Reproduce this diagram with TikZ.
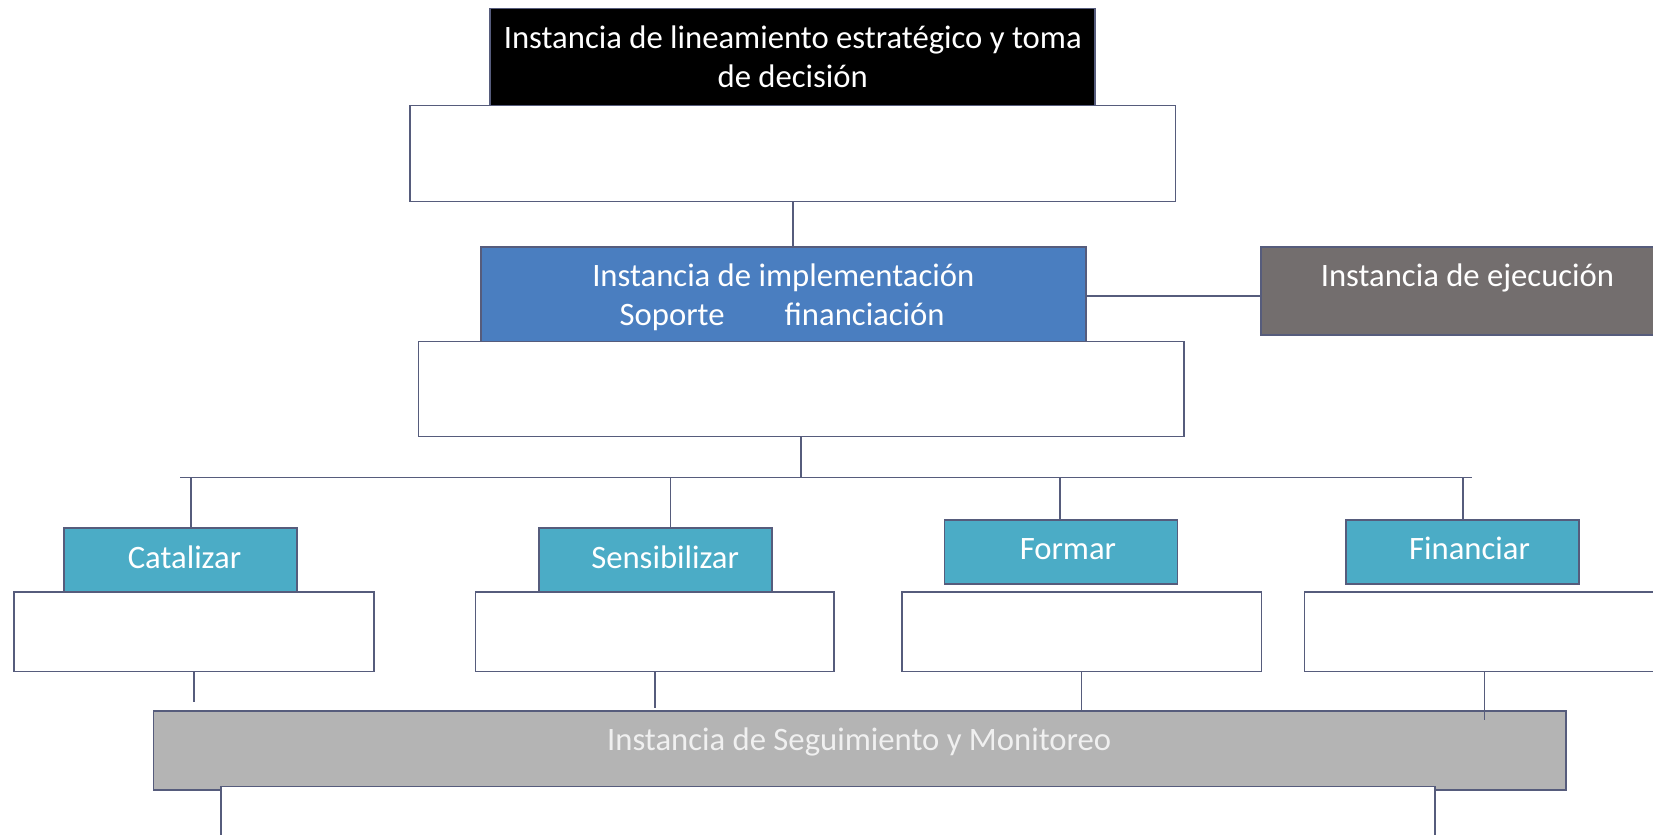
\documentclass[tikz,border=0pt]{standalone}
\usepackage{fontspec}
\setmainfont{Carlito}
\usetikzlibrary{fit}
\definecolor{edge}{HTML}{565C7C}
\definecolor{implblue}{HTML}{4A7EC0}
\definecolor{exegray}{HTML}{736E6E}
\definecolor{teal}{HTML}{4BACC6}
\definecolor{seggray}{HTML}{B4B4B4}
\definecolor{segtext}{HTML}{F0F0F0}
\begin{document}
\begin{tikzpicture}[x=0.5pt,y=-0.5pt,
  box/.style={draw=edge, line width=0.8pt, inner sep=0pt},
  txt/.style={inner sep=0pt, anchor=base, font=\fontsize{15.5pt}{18.5pt}\selectfont},
  wtxt/.style={txt, text=white},
  conn/.style={draw=edge, line width=0.8pt}]
\path[use as bounding box] (0,0) rectangle (1568,792);
\clip (0,0) rectangle (1568,792);
% top level
\node[box, fit={(465,8) (1039,100)}, fill=black] (top) {};
\node[box, fit={(389,100) (1115,191)}, fill=white] (w0) {};
\node[wtxt] (topa) at (752,46) {Instancia de lineamiento estratégico y toma};
\node[wtxt] (topb) at (752,83) {de decisión};
% implementation
\node[box, fit={(397,324) (1123,414)}, fill=white] (w00) {};
\node[box, fit={(456,234) (1030,324)}, fill=implblue] (impl) {};
\node[wtxt] (impla) at (743,272) {Instancia de implementación};
\node[wtxt] (implb) at (742,309) {Soporte\hspace{28.5pt}financiación};
% execution
\node[box, fit={(1196,234) (1590,318)}, fill=exegray] (exe) {};
\node[wtxt] (exet) at (1392,272) {Instancia de ejecución};
% action boxes
\node[box, fit={(61,501) (282,561)}, fill=teal] (cat) {};
\node[box, fit={(511,501) (732,561)}, fill=teal] (sen) {};
\node[box, fit={(896,493) (1117,554)}, fill=teal] (for) {};
\node[box, fit={(1277,493) (1498,554)}, fill=teal] (fin) {};
\node[wtxt] (catt) at (175,539) {Catalizar};
\node[wtxt] (sent) at (631,539) {Sensibilizar};
\node[wtxt] (fort) at (1013,531) {Formar};
\node[wtxt] (fint) at (1394,531) {Financiar};
\node[box, fit={(13.5,561.5) (354.5,637)}, fill=white] (w1) {};
\node[box, fit={(451,561.5) (791,637)}, fill=white] (w2) {};
\node[box, fit={(855.5,561.5) (1196.5,637)}, fill=white] (w3) {};
\node[box, fit={(1237.5,561.5) (1590,637)}, fill=white] (w4) {};
% monitoring
\node[box, fit={(145.5,674.5) (1485.5,749.5)}, fill=seggray] (seg) {};
\node[box, fit={(209.5,746) (1361.5,810)}, fill=white] (w5) {};
\node[txt, text=segtext] (segt) at (815,712) {Instancia de Seguimiento y Monitoreo};
% connectors
\coordinate (busL) at (171,453);
\coordinate (busR) at (1396,453);
\coordinate (d1) at (181,453);
\coordinate (d2) at (636,453);
\coordinate (d3) at (1005.5,453);
\coordinate (d4) at (1387.5,453);
\coordinate (u1) at (184,665.5);
\coordinate (u2) at (621.5,672);
\coordinate (u3) at (1026,675);
\coordinate (u4) at (1408,683);
\coordinate (ex) at (1100,281);
\draw[conn] (w0.south) -- (w0.south |- impl.north);
\draw[conn] (impl.east |- ex) -- (exe.west |- ex);
\draw[conn] (w00.south) -- (w00.south |- busL);
\draw[conn] (busL) -- (busR);
\draw[conn] (d1) -- (d1 |- cat.north);
\draw[conn] (d2) -- (d2 |- sen.north);
\draw[conn] (d3) -- (d3 |- for.north);
\draw[conn] (d4) -- (d4 |- fin.north);
\draw[conn] (u1 |- w1.south) -- (u1);
\draw[conn] (u2 |- w2.south) -- (u2);
\draw[conn] (u3 |- w3.south) -- (u3);
\draw[conn] (u4 |- w4.south) -- (u4);
\end{tikzpicture}
\end{document}
